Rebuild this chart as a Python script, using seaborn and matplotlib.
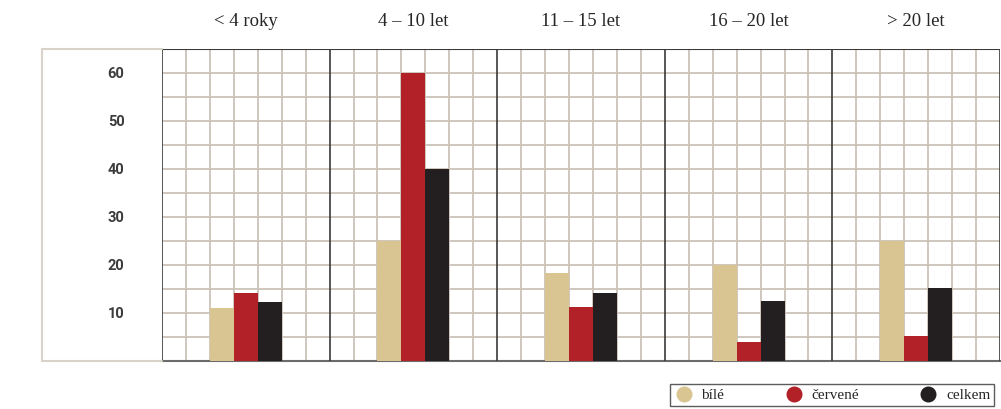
import pandas as pd
import numpy as np
import matplotlib.pyplot as plt
import seaborn as sns
from matplotlib.lines import Line2D

# data
skupiny = ['< 4 roky', '4 – 10 let', '11 – 15 let', '16 – 20 let', '> 20 let']
bile = [11.1, 25.0, 18.3, 20.0, 25.0]
cervene = [14.1, 60.0, 11.2, 4.0, 5.2]
celkem = [12.3, 40.0, 14.1, 12.6, 15.2]
serie = ['bílé', 'červené', 'celkem']
barvy = ['#d9c591', '#b22028', '#231f20']
y_ticks = [10, 20, 30, 40, 50, 60]

df = pd.DataFrame({
    'skupina': skupiny * 3,
    'serie': [s for s in serie for _ in skupiny],
    'hodnota': bile + cervene + celkem,
})

sns.set_style('white')
fig = plt.figure(figsize=(10.01, 4.09), dpi=100)
ax = fig.add_axes([162 / 1001, 48 / 409, 838 / 1001, 312 / 409])

sns.barplot(data=df, x='skupina', y='hodnota', hue='serie', order=skupiny,
            hue_order=serie, palette=barvy, width=3 / 7, dodge=True,
            saturation=1, edgecolor='none', linewidth=0, legend=False,
            zorder=3, ax=ax)

ax.set_xlim(-0.5, 4.5)
ax.set_ylim(0, 65)

# light grid: 7 columns per group, rows every 5
grid_c = '#cbc2b8'
for i in range(len(skupiny)):
    for k in range(1, 7):
        ax.axvline(i - 0.5 + k / 7, color=grid_c, lw=1.3, zorder=1)
for yv in np.arange(5, 65, 5):
    ax.axhline(yv, color=grid_c, lw=1.3, zorder=1)
for i in range(len(skupiny) + 1):
    ax.axvline(i - 0.5, color='#3a3a3a', lw=1.2, zorder=4)

for s in ['left', 'right', 'top']:
    ax.spines[s].set_visible(False)
ax.spines['bottom'].set_color('#6b6b6b')
ax.spines['bottom'].set_linewidth(1.5)
ax.axhline(65, color='#3a3a3a', lw=1.5, zorder=4)

# group labels on top
ax.xaxis.tick_top()
ax.set_xticks(range(len(skupiny)))
ax.set_xticklabels(skupiny, family='Liberation Serif', fontsize=13.5)
ax.tick_params(axis='x', length=0, pad=14)
ax.set_xlabel('')
ax.set_ylabel('')

ax.set_yticks(y_ticks)
ax.set_yticklabels([str(v) for v in y_ticks], fontsize=10.5,
                   color='#3c3c3c', fontweight='bold')
ax.tick_params(axis='y', length=15, width=1.3, color=grid_c, pad=12)
for lab in ax.get_yticklabels():
    lab.set_family(['Roboto', 'DejaVu Sans'])

# outer light frame on the left
fig.add_artist(Line2D([42 / 1001, 162 / 1001], [360 / 409, 360 / 409],
                      color='#d8d2cb', lw=1.5))
fig.add_artist(Line2D([42 / 1001, 162 / 1001], [48 / 409, 48 / 409],
                      color='#d8d2cb', lw=1.5))
fig.add_artist(Line2D([42 / 1001, 42 / 1001], [48 / 409, 360 / 409],
                      color='#d8d2cb', lw=1.5))

# legend
handles = [Line2D([0], [0], marker='o', color='none', markerfacecolor=c,
                  markeredgecolor=c, markersize=10.5) for c in barvy]
leg = fig.legend(handles, serie, loc='center', ncol=3,
                 bbox_to_anchor=(832 / 1001, 14 / 409), frameon=True,
                 fancybox=False, edgecolor='#333333', handlelength=1.3,
                 handletextpad=0.5, columnspacing=3.9, borderpad=0.25,
                 borderaxespad=0,
                 prop={'family': 'Liberation Serif', 'size': 11})
leg.get_frame().set_linewidth(1.0)

fig.savefig('out.png', dpi=100)
